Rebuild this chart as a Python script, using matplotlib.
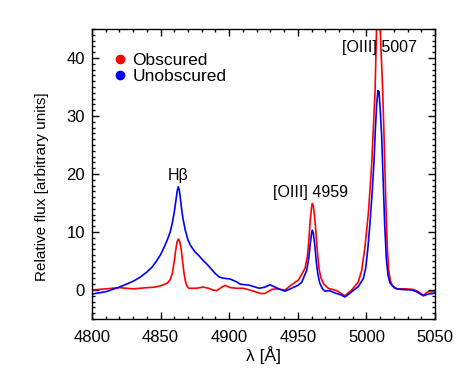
import numpy as np
from matplotlib import pyplot as plt
from matplotlib.lines import Line2D
from matplotlib.ticker import MultipleLocator

plt.rcParams['font.family'] = ['Liberation Sans', 'DejaVu Sans']

# obscured (red) spectrum
wl_obs = [4800, 4810, 4820, 4830, 4840, 4846, 4851, 4855, 4857, 4858.5,
          4860, 4861, 4862, 4863, 4864, 4865, 4866, 4867, 4868, 4869,
          4870.5, 4876, 4881, 4885, 4888, 4891, 4894, 4897, 4901, 4905.5,
          4910, 4915, 4919, 4923, 4926, 4931, 4935, 4940.7, 4945.5, 4950.4,
          4955.2, 4957, 4958, 4959, 4960, 4960.6, 4961.3, 4962.5, 4963.5, 4964.5,
          4965.5, 4967, 4969, 4972.2, 4978.3, 4984.4, 4989.3, 4994.1, 4996.6, 4999,
          5001.4, 5002.6, 5003.8, 5005, 5006.3, 5007.4, 5008.5, 5009.6, 5010.4, 5011.9,
          5012.8, 5013.6, 5014.4, 5015.2, 5016.2, 5017.5, 5019, 5022, 5028, 5034.2,
          5037.8, 5041.5, 5045, 5050]
flux_obs = [0.0, 0.2, 0.4, 0.2, 0.4, 0.5, 0.8, 1.2, 1.8, 2.8,
            5.0, 6.8, 8.3, 8.8, 8.3, 7.0, 5.0, 3.0, 1.6, 0.8,
            0.3, 0.3, 0.5, 0.3, 0.0, -0.1, 0.4, 0.8, 0.4, 0.3,
            0.3, 0.0, -0.3, -0.6, -0.6, 0.1, 0.2, 0.0, 0.9, 1.7,
            3.7, 5.8, 8.5, 11.8, 14.2, 14.9, 14.5, 12.1, 9.0, 6.0,
            3.6, 2.0, 1.0, 0.3, -0.1, -1.0, 0.0, 1.4, 3.4, 7.5,
            13.2, 17.2, 21.5, 27.5, 34.2, 45.0, 54.0, 49.0, 43.0, 34.2,
            27.0, 20.0, 13.0, 7.5, 3.5, 1.6, 0.7, 0.2, 0.2, 0.1,
            -0.3, -0.9, -0.3, -0.3]

# unobscured (blue) spectrum
wl_unobs = [4800, 4805, 4810, 4815, 4820, 4825, 4830, 4835, 4840, 4844,
            4847, 4850, 4853, 4855, 4857, 4858.5, 4860, 4861.2, 4862.2, 4862.9,
            4863.6, 4864.5, 4865.5, 4866.5, 4868, 4870, 4872, 4875, 4878, 4881,
            4884, 4887, 4890, 4893, 4897, 4900.6, 4905.5, 4908, 4912, 4915,
            4919, 4922, 4926, 4929.7, 4933.4, 4937, 4940.7, 4945.5, 4950, 4952.8,
            4956.5, 4958, 4959, 4960, 4960.6, 4961.3, 4962.5, 4963.5, 4964.5, 4966,
            4968, 4969.8, 4973, 4977, 4981, 4984.4, 4989.3, 4994.1, 4997.8, 4999.5,
            5001, 5002.6, 5004.3, 5005.5, 5006.5, 5007.5, 5008.4, 5009.2, 5010.1, 5011.1,
            5012.2, 5013.3, 5014.5, 5015.8, 5017.2, 5020.8, 5025, 5033, 5036.6, 5041.5,
            5045.1, 5048.5, 5050]
flux_unobs = [-0.7, -0.5, -0.3, 0.1, 0.5, 1.0, 1.5, 2.2, 3.1, 4.0,
              5.0, 6.1, 7.6, 8.7, 10.0, 11.5, 13.5, 15.5, 17.2, 17.8,
              17.3, 15.6, 13.6, 12.1, 10.3, 8.6, 7.6, 6.6, 5.9, 5.1,
              4.4, 3.6, 2.8, 2.2, 2.0, 1.9, 1.4, 1.0, 0.9, 0.8,
              0.5, 0.3, 0.5, 0.9, 0.5, 0.1, -0.2, 0.3, 0.8, 1.3,
              3.4, 5.5, 7.8, 9.7, 10.3, 9.8, 7.5, 4.8, 2.9, 1.2,
              0.2, -0.2, -0.1, -0.5, -0.8, -1.2, -0.3, 0.6, 2.0, 3.8,
              7.0, 11.5, 17.2, 22.0, 27.5, 32.0, 34.4, 34.2, 31.0, 26.7,
              19.0, 11.5, 5.5, 2.5, 1.2, 0.3, 0.1, 0.0, -0.3, -1.0,
              -0.7, -0.6, -0.5]

labels = ['Obscured', 'Unobscured']
colors = ['#ff0000', '#0000ff']

fig = plt.figure(figsize=(4.63, 3.79), dpi=100)
ax = fig.add_axes([92/463, 1 - 319/379, 343/463, 290/379])

ax.plot(wl_obs, flux_obs, color=colors[0], lw=1.2)
ax.plot(wl_unobs, flux_unobs, color=colors[1], lw=1.2)

ax.set_xlim(4800, 5050)
ax.set_ylim(-5, 45)
ax.xaxis.set_major_locator(MultipleLocator(50))
ax.xaxis.set_minor_locator(MultipleLocator(10))
ax.yaxis.set_major_locator(MultipleLocator(10))
ax.yaxis.set_minor_locator(MultipleLocator(1))
ax.tick_params(which='both', direction='in', top=True, right=True, labelsize=12, width=1)
ax.tick_params(which='major', length=5)
ax.tick_params(axis='x', which='major', pad=8)
ax.tick_params(axis='y', which='major', pad=5)
ax.tick_params(which='minor', length=2.5)
for s in ax.spines.values():
    s.set_linewidth(1)

ax.set_xlabel('λ [Å]', fontsize=12.5, labelpad=1)
ax.set_ylabel('Relative flux [arbitrary units]', fontsize=11)
ax.yaxis.set_label_coords(-0.125, 0.455)

ax.text(4863, 18.5, 'Hβ', ha='center', va='bottom', fontsize=11.5)
ax.text(4959.3, 15.6, '[OIII] 4959', ha='center', va='bottom', fontsize=11.5)
ax.text(5009.2, 40.6, '[OIII] 5007', ha='center', va='bottom', fontsize=11.5)

handles = [Line2D([], [], ls='none', marker='o', ms=6, color=c) for c in colors]
ax.legend(handles, labels, loc='upper left', bbox_to_anchor=(0.045, 0.94), frameon=False,
          fontsize=12.5, handlelength=0.7, handletextpad=0.35, labelspacing=0.0,
          borderaxespad=0)

fig.savefig('out.png', dpi=100)
